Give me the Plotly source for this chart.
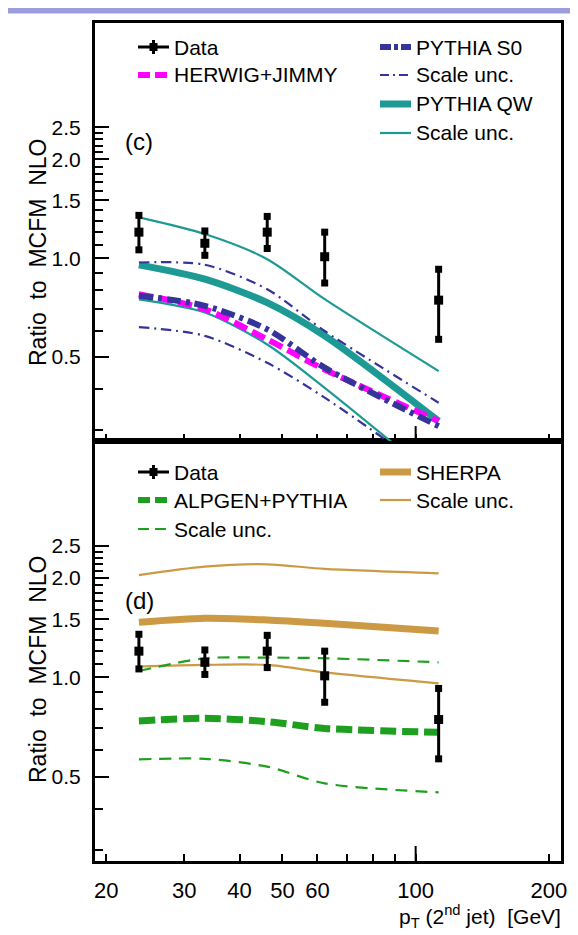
import plotly.graph_objects as go
import math

# ---------------- data ----------------
pt = [23.7, 33.4, 46.2, 62.3, 112.7]            # pT of 2nd jet [GeV]
data_val = [1.20, 1.11, 1.20, 1.01, 0.745]
data_hi = [1.35, 1.21, 1.34, 1.20, 0.925]
data_lo = [1.06, 1.02, 1.07, 0.84, 0.566]

# panel (c)
herwig = [0.777, 0.699, 0.566, 0.458, 0.319]
s0 = [0.768, 0.716, 0.607, 0.464, 0.308]
s0_up = [0.970, 0.955, 0.804, 0.600, 0.363]
s0_dn = [0.617, 0.580, 0.480, 0.376, 0.215]
qw = [0.954, 0.863, 0.732, 0.580, 0.319]
qw_up = [1.331, 1.184, 0.993, 0.750, 0.453]
qw_dn = [0.749, 0.683, 0.546, 0.403, 0.210]

# panel (d)
alpgen = [0.737, 0.751, 0.734, 0.700, 0.681]
alpgen_up = [1.045, 1.142, 1.147, 1.142, 1.110]
alpgen_dn = [0.564, 0.566, 0.536, 0.477, 0.448]
sherpa = [1.468, 1.510, 1.492, 1.458, 1.382]
sherpa_up = [2.040, 2.165, 2.200, 2.130, 2.066]
sherpa_dn = [1.077, 1.090, 1.090, 1.035, 0.959]

x_major = [20, 30, 40, 50, 60, 100, 200]
x_major_text = ["20", "30", "40", "50", "60", "100", "200"]
x_minor = [70, 80, 90]
y_major = [0.5, 1.0, 1.5, 2.0, 2.5]
y_major_text = ["0.5", "1.0", "1.5", "2.0", "2.5"]
y_minor = [0.3, 0.4, 0.6, 0.7, 0.8, 0.9, 1.1, 1.2, 1.3, 1.4,
           1.6, 1.7, 1.8, 1.9, 2.1, 2.2, 2.3, 2.4]

# ---------------- style ----------------
FONT = "Liberation Sans, Arial, Helvetica, sans-serif"
NAVY = "#34349a"
MAG = "#ff00ff"
TEAL = "#1d9a94"
TAN = "#cc9a45"
GREEN = "#1f9f1f"

W, H = 578, 935
L, R, T, B = 87, 25, 15, 82
PW = W - L - R
PH = H - T - B


def px(x):
    return (x - L) / PW


def py(y):
    return (H - B - y) / PH


fig = go.Figure()


def curve(y, color, width, dash, yaxis):
    fig.add_trace(go.Scatter(x=pt, y=y, mode="lines", yaxis=yaxis,
                             xaxis="x" if yaxis == "y" else "x2",
                             line=dict(color=color, width=width, dash=dash,
                                       shape="spline", smoothing=0.8),
                             hoverinfo="skip", showlegend=False))


def data(yaxis):
    xa = "x" if yaxis == "y" else "x2"
    fig.add_trace(go.Scatter(
        x=pt, y=data_val, mode="markers", yaxis=yaxis, xaxis=xa,
        marker=dict(symbol="square", size=9, color="black"),
        error_y=dict(type="data", symmetric=False,
                     array=[h - v for h, v in zip(data_hi, data_val)],
                     arrayminus=[v - l for l, v in zip(data_lo, data_val)],
                     color="black", thickness=3, width=0),
        showlegend=False))
    fig.add_trace(go.Scatter(
        x=pt + pt, y=data_hi + data_lo, mode="markers", yaxis=yaxis, xaxis=xa,
        marker=dict(symbol="square", size=7, color="black"),
        showlegend=False, hoverinfo="skip"))


# top panel (c) -> axes x2/y2
curve(qw_up, TEAL, 2.2, "solid", "y2")
curve(qw_dn, TEAL, 2.2, "solid", "y2")
curve(qw, TEAL, 7, "solid", "y2")
curve(s0_up, NAVY, 2.2, "10px,5px,2px,5px", "y2")
curve(s0_dn, NAVY, 2.2, "10px,5px,2px,5px", "y2")
curve(herwig, MAG, 6, "14px,6px", "y2")
curve(s0, NAVY, 6, "14px,5px,4px,5px", "y2")
data("y2")

# bottom panel (d) -> axes x/y
curve(sherpa_up, TAN, 2.2, "solid", "y")
curve(sherpa_dn, TAN, 2.2, "solid", "y")
curve(sherpa, TAN, 7, "solid", "y")
curve(alpgen_up, GREEN, 2.2, "12px,8px", "y")
curve(alpgen_dn, GREEN, 2.2, "12px,8px", "y")
curve(alpgen, GREEN, 7, "16px,6px", "y")
data("y")

xrange = [math.log10(18.86), math.log10(213)]
yrange = [math.log10(0.2775), math.log10(5.2)]
split = 420 / PH

common_x = dict(type="log", range=xrange, tickvals=x_major, ticktext=x_major_text,
                ticks="inside", ticklen=7, tickwidth=2, tickcolor="black",
                showgrid=False, zeroline=False, showline=True, linewidth=3,
                linecolor="black", mirror=True,
                minor=dict(tickvals=x_minor, ticks="inside", ticklen=7,
                           tickwidth=2, tickcolor="black", showgrid=False))
common_y = dict(type="log", range=yrange, tickvals=y_major, ticktext=y_major_text,
                ticks="inside", ticklen=14, tickwidth=2, tickcolor="black",
                showgrid=False, zeroline=False, showline=True, linewidth=3,
                linecolor="black", mirror=True,
                minor=dict(tickvals=y_minor, ticks="inside", ticklen=8,
                           tickwidth=2, tickcolor="black", showgrid=False),
                tickfont=dict(family=FONT, size=21, color="black"),
                ticklabelstandoff=7)

fig.update_layout(
    width=W, height=H,
    margin=dict(l=L, r=R, t=T, b=B),
    paper_bgcolor="white", plot_bgcolor="white",
    font=dict(family=FONT, color="black"),
    showlegend=False,
    xaxis=dict(**common_x, anchor="y",
               tickfont=dict(family=FONT, size=22, color="black"),
               ticklabelstandoff=8),
    yaxis=dict(**common_y, domain=[0, split], anchor="x"),
    xaxis2=dict(**common_x, anchor="y2", showticklabels=False, matches="x"),
    yaxis2=dict(**common_y, domain=[split, 1], anchor="x2"),
)

shapes = []
annotations = []

# long tick at 100 in both panels
for xr, yr in (("x", "y domain"), ("x2", "y2 domain")):
    shapes.append(dict(type="line", xref=xr, yref=yr, x0=100, x1=100,
                       y0=0, y1=15 / 420, line=dict(color="black", width=2)))

# slide header bar
shapes.append(dict(type="rect", xref="paper", yref="paper", x0=-L / PW,
                   x1=1 + R / PW, y0=py(5.5), y1=py(0),
                   fillcolor="#9c9cdc", line=dict(width=0), layer="above"))


def leg_line(x0, y, color, width, dash):
    shapes.append(dict(type="line", xref="paper", yref="paper",
                       x0=px(x0), x1=px(x0 + 31), y0=py(y), y1=py(y),
                       line=dict(color=color, width=width, dash=dash)))


def leg_data(x0, y):
    shapes.append(dict(type="line", xref="paper", yref="paper",
                       x0=px(x0), x1=px(x0 + 31), y0=py(y), y1=py(y),
                       line=dict(color="black", width=3)))
    shapes.append(dict(type="line", xref="paper", yref="paper",
                       x0=px(x0 + 15.5), x1=px(x0 + 15.5), y0=py(y - 7), y1=py(y + 7),
                       line=dict(color="black", width=3)))
    shapes.append(dict(type="rect", xref="paper", yref="paper",
                       x0=px(x0 + 11.5), x1=px(x0 + 19.5), y0=py(y - 4), y1=py(y + 4),
                       fillcolor="black", line=dict(width=0)))


def leg_text(x, y, text):
    annotations.append(dict(xref="paper", yref="paper", x=px(x), y=py(y),
                            text=text, showarrow=False, xanchor="left",
                            yanchor="middle",
                            font=dict(family=FONT, size=21, color="black")))


# legend (c)
leg_data(130, 39); leg_text(164, 39, "Data")
leg_line(130, 67, MAG, 6, "12px,5px"); leg_text(164, 67, "HERWIG+JIMMY")
leg_line(372, 39, NAVY, 6, "11px,3px,4px,3px"); leg_text(406, 39, "PYTHIA S0")
leg_line(372, 67, NAVY, 2.2, "9px,4px,2px,4px"); leg_text(406, 67, "Scale unc.")
leg_line(372, 96, TEAL, 7, "solid"); leg_text(406, 96, "PYTHIA QW")
leg_line(372, 125, TEAL, 2.2, "solid"); leg_text(406, 125, "Scale unc.")

# legend (d)
leg_data(130, 464); leg_text(164, 464, "Data")
leg_line(130, 492, GREEN, 6, "12px,5px"); leg_text(164, 492, "ALPGEN+PYTHIA")
leg_line(130, 521, GREEN, 2.2, "11px,6px"); leg_text(164, 521, "Scale unc.")
leg_line(372, 464, TAN, 7, "solid"); leg_text(406, 464, "SHERPA")
leg_line(372, 492, TAN, 2.2, "solid"); leg_text(406, 492, "Scale unc.")

# panel labels
annotations.append(dict(xref="paper", yref="paper", x=px(115), y=py(133),
                        text="(c)", showarrow=False, xanchor="left", yanchor="middle",
                        font=dict(family=FONT, size=24, color="black")))
annotations.append(dict(xref="paper", yref="paper", x=px(115), y=py(592),
                        text="(d)", showarrow=False, xanchor="left", yanchor="middle",
                        font=dict(family=FONT, size=24, color="black")))

# y titles
for yc in (245, 662):
    annotations.append(dict(xref="paper", yref="paper", x=px(30), y=py(yc),
                            text="Ratio  to  MCFM  NLO", showarrow=False,
                            textangle=-90, xanchor="center", yanchor="middle",
                            font=dict(family=FONT, size=23, color="black")))

# x title
annotations.append(dict(xref="paper", yref="paper", x=px(555), y=py(908),
                        text="p<sub>T</sub> (2<sup>nd</sup> jet)  [GeV]",
                        showarrow=False, xanchor="right", yanchor="middle",
                        font=dict(family=FONT, size=21, color="black")))

fig.update_layout(shapes=shapes, annotations=annotations)
fig.write_html("out.html")
